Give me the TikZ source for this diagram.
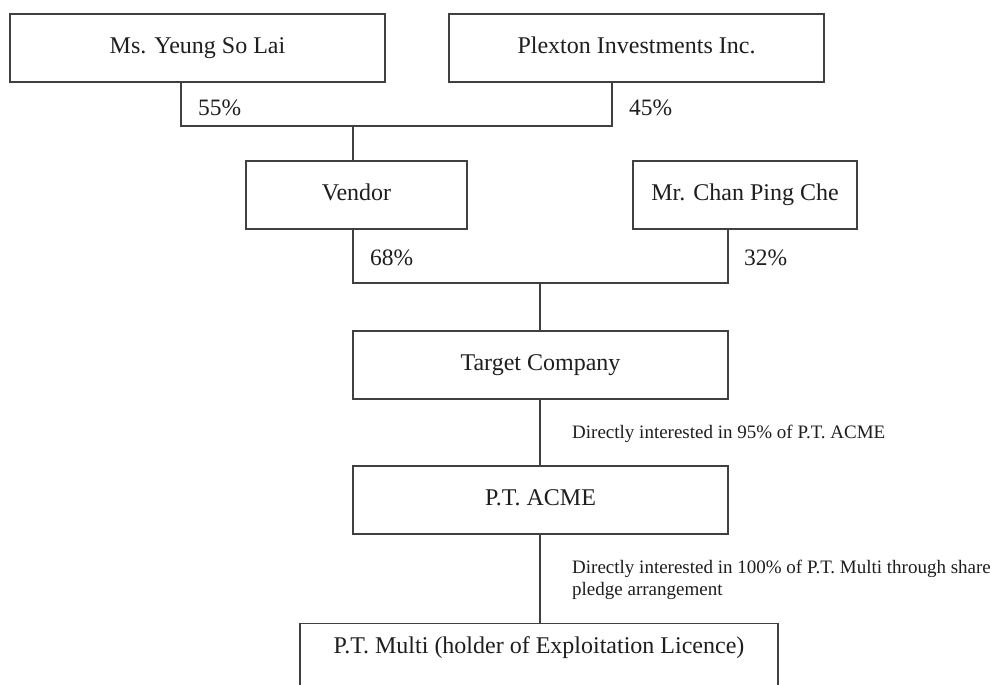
\documentclass[tikz,border=0pt]{standalone}
\usepackage{fontspec}
\setmainfont{Liberation Serif}
\definecolor{linec}{HTML}{404040}
\definecolor{txtc}{HTML}{1E1E1E}
\begin{document}
\begin{tikzpicture}[x=1pt,y=-1pt,
  box/.style={draw=linec, line width=1.2pt, rectangle, inner sep=0pt, minimum height=68pt,
     text height=16pt, text depth=5pt, text=txtc, font=\fontsize{24}{28}\selectfont},
  pct/.style={inner sep=0pt, anchor=base west, text=txtc, font=\fontsize{23.5}{28}\selectfont},
  lbl/.style={inner sep=0pt, text=txtc, font=\fontsize{19}{22}\selectfont},
  conn/.style={draw=linec, line width=1.2pt}]
\useasboundingbox (0,0) rectangle (1001,685);
\clip (0,0) rectangle (1001,685);
\fill[white] (0,0) rectangle (1001,685);
% boxes
\node[box, minimum width=375pt] (yeung) at (197.5,48) {Ms. Yeung So Lai};
\node[box, minimum width=375pt] (plexton) at (636.5,48) {Plexton Investments Inc.};
\node[box, minimum width=221pt] (vendor) at (356.5,195) {Vendor};
\node[box, minimum width=224pt] (chan) at (745,195) {Mr. Chan Ping Che};
\node[box, minimum width=375pt] (target) at (540.5,365) {Target Company};
\node[box, minimum width=375pt] (acme) at (540.5,500) {P.T. ACME};
\node[box, minimum width=478pt, minimum height=0pt, anchor=north, inner ysep=14pt,
      text height=16pt, text depth=60pt] (multi) at (539,623) {P.T. Multi (holder of Exploitation Licence)};
% junction coordinates
\coordinate (ya) at (181,126);
\coordinate (pa) at (612,126);
\coordinate (j1) at (353,126);
\coordinate (va) at (353,283);
\coordinate (ca) at (728,283);
\coordinate (j2) at (540,283);
% connectors
\draw[conn] (yeung.south -| ya) -- (ya) -- (pa) -- (plexton.south -| pa);
\draw[conn] (j1) -- (vendor.north -| j1);
\draw[conn] (vendor.south -| va) -- (va) -- (ca) -- (chan.south -| ca);
\draw[conn] (j2) -- (target.north -| j2);
\draw[conn] (target.south -| j2) -- (acme.north -| j2);
\draw[conn] (acme.south -| j2) -- (multi.north -| j2);
% labels
\node[pct] (p55) at (198,115) {55\%};
\node[pct] (p45) at (629,115) {45\%};
\node[pct] (p68) at (370,265) {68\%};
\node[pct] (p32) at (744,265) {32\%};
\node[lbl, anchor=base west] (l1) at (572,438) {Directly interested in 95\% of P.T. ACME};
\node[lbl, anchor=north west, align=left] (l2) at (572,560) {Directly interested in 100\% of P.T. Multi through share\\pledge arrangement};
\end{tikzpicture}
\end{document}
